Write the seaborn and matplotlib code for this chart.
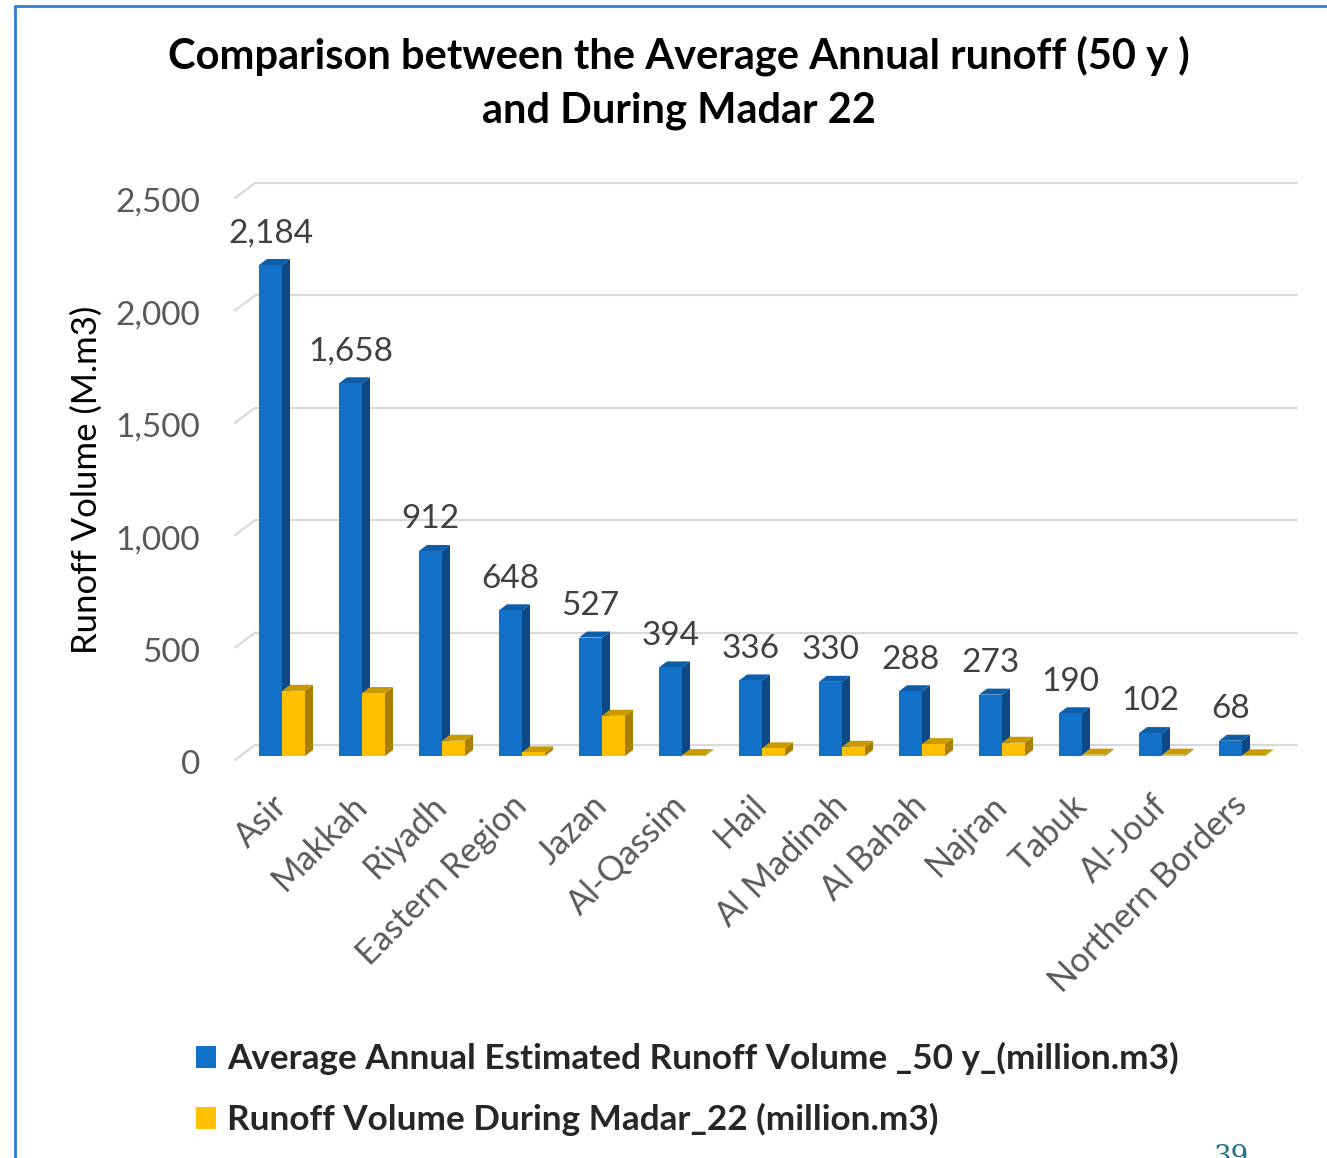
import numpy as np
import pandas as pd
import matplotlib
matplotlib.use("Agg")
import matplotlib.pyplot as plt
import matplotlib.transforms as mtransforms
from matplotlib.patches import Polygon, Patch
from matplotlib.lines import Line2D
import seaborn as sns

# ---- data -------------------------------------------------------------
regions = ["Asir", "Makkah", "Riyadh", "Eastern Region", "Jazan", "Al-Qassim",
           "Hail", "Al Madinah", "Al Bahah", "Najran", "Tabuk", "Al-Jouf",
           "Northern Borders"]
avg_runoff = [2184, 1658, 912, 648, 527, 394, 336, 330, 288, 273, 190, 102, 68]
madar_runoff = [290, 280, 68, 16, 179, 4, 34, 41, 53, 59, 6, 6, 3]

series_avg = "Average Annual Estimated Runoff Volume _50 y_(million.m3)"
series_madar = "Runoff Volume During Madar_22 (million.m3)"
y_ticks = [0, 500, 1000, 1500, 2000, 2500]

title_lines = ["Comparison between the Average Annual runoff (50 y )",
               "and During Madar 22"]
y_label = "Runoff Volume (M.m3)"

# ---- styling ------------------------------------------------------------
BLUE = "#1170C8"
BLUE_SIDE = "#0B4A86"
BLUE_TOP = "#0D5DA8"
GOLD = "#FFC000"
GOLD_SIDE = "#A87F00"
GOLD_TOP = "#C99A00"
FONTS = ["Lato", "DejaVu Sans"]

sns.set_theme(style="white")
plt.rcParams["font.family"] = FONTS

W, H = 1327, 1158
fig = plt.figure(figsize=(W / 100, H / 100), dpi=100)

# plot area (front plane): x from 242 to 1282 px, y from 194 to 756 px
ax_left, ax_right, ax_top, ax_bot = 242, 1282, 194, 756
ax = fig.add_axes([ax_left / W, (H - ax_bot) / H,
                   (ax_right - ax_left) / W, (ax_bot - ax_top) / H])

df = pd.DataFrame({
    "region": regions * 2,
    "value": avg_runoff + madar_runoff,
    "series": [series_avg] * len(regions) + [series_madar] * len(regions),
})

sns.barplot(data=df, x="region", y="value", hue="series",
            palette=[BLUE, GOLD], saturation=1, width=0.575, gap=0,
            ax=ax, legend=False, edgecolor="none", linewidth=0)

ax.set_xlim(-0.5, len(regions) - 0.5)
ax.set_ylim(0, 2500)
for s in ax.spines.values():
    s.set_visible(False)
ax.grid(False)

# depth of each bar in data units (8 px right, 6 px up)
px_x = (len(regions)) / (ax_right - ax_left)
px_y = 2500 / (ax_bot - ax_top)
ddx, ddy = 8 * px_x, 6 * px_y

n = len(regions)
bars = list(ax.patches)
for i, p in enumerate(bars):
    is_avg = i < n
    side_c = BLUE_SIDE if is_avg else GOLD_SIDE
    top_c = BLUE_TOP if is_avg else GOLD_TOP
    z = 3 if is_avg else 5
    x0 = p.get_x()
    x1 = x0 + p.get_width()
    h = p.get_height()
    p.set_zorder(z)
    side = Polygon([(x1, 0), (x1 + ddx, ddy), (x1 + ddx, h + ddy), (x1, h)],
                   closed=True, facecolor=side_c, edgecolor="none", zorder=z - 0.5)
    top = Polygon([(x0, h), (x0 + ddx, h + ddy), (x1 + ddx, h + ddy), (x1, h)],
                  closed=True, facecolor=top_c, edgecolor="none", zorder=z - 0.5)
    ax.add_patch(side)
    ax.add_patch(top)

# back-wall gridlines with a short diagonal returning to the front edge
grid_c = "#D9D9D9"
gx_front = (235 - ax_left) / (ax_right - ax_left)
gx_back = (255 - ax_left) / (ax_right - ax_left)
gx_end = (1297 - ax_left) / (ax_right - ax_left)
blend = mtransforms.blended_transform_factory(ax.transAxes, ax.transData)
for v in y_ticks:
    back = mtransforms.offset_copy(blend, fig=fig, x=0, y=11, units="dots")
    front = mtransforms.offset_copy(blend, fig=fig, x=0, y=-4, units="dots")
    ax.add_line(Line2D([gx_back, gx_end], [v, v], transform=back,
                       color=grid_c, lw=1.6, clip_on=False, zorder=1))
    p_front = front.transform((gx_front, v))
    p_back = back.transform((gx_back, v))
    ax.add_line(Line2D([p_front[0], p_back[0]], [p_front[1], p_back[1]],
                       transform=None, color=grid_c, lw=1.6,
                       clip_on=False, zorder=1))

# y ticks
ax.set_yticks(y_ticks)
ax.set_yticklabels([f"{v:,}" for v in y_ticks])
ax.tick_params(axis="y", length=0, pad=30, labelsize=24, labelcolor="#595959")
shift = mtransforms.ScaledTranslation(0, -6 / 100, fig.dpi_scale_trans)
for lab in ax.get_yticklabels():
    lab.set_transform(lab.get_transform() + shift)
    lab.set_fontfamily(FONTS)

# x ticks
ax.set_xlabel("")
ax.set_ylabel("")
ax.tick_params(axis="x", length=0, pad=32, labelsize=24.5, labelcolor="#595959")
for lab in ax.get_xticklabels():
    lab.set_rotation(45)
    lab.set_ha("right")
    lab.set_va("center")
    lab.set_rotation_mode("anchor")

# value labels over the blue bars
for p, v in zip(bars[:n], avg_runoff):
    cx = p.get_x() + p.get_width() / 2
    ax.annotate(f"{v:,}", (cx, v), xytext=(0, 12), textcoords="offset points",
                ha="center", va="bottom", fontsize=24, color="#404040",
                zorder=6, annotation_clip=False)

# titles and axis label
fig.text(679 / W, 1 - 56 / H, title_lines[0], ha="center", va="center",
         fontsize=30, fontweight="bold", color="black")
fig.text(679 / W, 1 - 111 / H, title_lines[1], ha="center", va="center",
         fontsize=30, fontweight="bold", color="black")
fig.text(87 / W, 1 - 480 / H, y_label, rotation=90, ha="center", va="center",
         fontsize=25, color="black")

# legend
handles = [Patch(facecolor=BLUE, edgecolor="none"),
           Patch(facecolor=GOLD, edgecolor="none")]
fig.legend(handles, [series_avg, series_madar], loc="upper left",
           bbox_to_anchor=(196 / W, 1 - 1042 / H), frameon=False,
           prop={"family": FONTS, "weight": "bold", "size": 25.3},
           handlelength=0.58, handleheight=0.58, handletextpad=0.3,
           labelspacing=0.80, borderaxespad=0, borderpad=0)

# slide frame and page number
frame_c = "#2F7BD6"
fig.add_artist(Line2D([15 / W, 15 / W], [0, 1 - 6 / H], transform=fig.transFigure,
                      color=frame_c, lw=2))
fig.add_artist(Line2D([15 / W, 1], [1 - 6 / H, 1 - 6 / H], transform=fig.transFigure,
                      color=frame_c, lw=2))
fig.text(1232 / W, 1 - 1144 / H, "39", ha="center", va="top", fontsize=20,
         color="#1F6E8C", fontfamily="DejaVu Serif")

fig.savefig("out.png", dpi=100, facecolor="white")
